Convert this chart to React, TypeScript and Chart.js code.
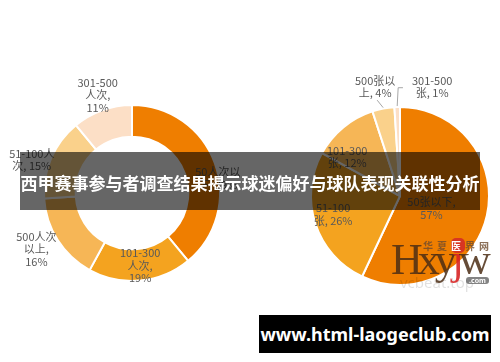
import React, { useEffect, useRef } from 'react';
import { Chart, registerables } from 'chart.js';

Chart.register(...registerables);

// ---- data ----
const leftCategories = ['50人次以下', '101-300人次', '500人次以上', '51-100人次', '301-500人次'];
const leftValues = [39, 19, 16, 15, 11];
const leftLabelLines = [
  ['50人次以', '下, 39%'],
  ['101-300', '人次,', '19%'],
  ['500人次', '以上,', '16%'],
  ['51-100人', '次, 15%'],
  ['301-500', '人次,', '11%'],
];

const rightCategories = ['50张以下', '51-100张', '101-300张', '500张以上', '301-500张'];
const rightValues = [57, 26, 12, 4, 1];
const rightLabelLines = [
  ['50张以下,', '57%'],
  ['51-100', '张, 26%'],
  ['101-300', '张, 12%'],
  ['500张以', '上, 4%'],
  ['301-500', '张, 1%'],
];

const titleText = '西甲赛事参与者调查结果揭示球迷偏好与球队表现关联性分析';
const urlText = 'www.html-laogeclub.com';

// ---- styles ----
const sliceColors = ['#EF7E00', '#F4A31F', '#F6B656', '#FAD18B', '#FCDFC6'];
const FONT = '"Noto Sans CJK SC", "Noto Sans", sans-serif';

// [radius factor, angle shift (deg), leader type]
const leftPlace: [number, number, string][] = [
  [0.99, 10, ''],
  [0.83, -1, ''],
  [1.26, 2, ''],
  [1.2, -5, ''],
  [1.18, 0.5, ''],
];
const rightPlace: [number, number, string][] = [
  [0.38, 9, ''],
  [0.78, 2.6, ''],
  [0.74, -13.7, ''],
  [1.26, -2, 'straight'],
  [1.28, 18.2, 'elbow'],
];

const sliceLabels = {
  id: 'sliceLabels',
  afterDatasetsDraw(chart: any, _args: any, opts: any) {
    const { ctx } = chart;
    const meta = chart.getDatasetMeta(0);
    const lines: string[][] = opts.lines;
    const place: [number, number, string][] = opts.place;
    const lh = 12.5;
    ctx.save();
    ctx.font = '11px ' + FONT;
    ctx.fillStyle = '#595959';
    ctx.textAlign = 'center';
    ctx.textBaseline = 'middle';
    meta.data.forEach((arc: any, i: number) => {
      const p = arc.getProps(['x', 'y', 'startAngle', 'endAngle', 'outerRadius'], true);
      const [k, shift, leader] = place[i];
      const mid0 = (p.startAngle + p.endAngle) / 2;
      const mid = mid0 + (shift * Math.PI) / 180;
      const r = p.outerRadius * k;
      const cx = p.x + Math.cos(mid) * r;
      const cy = p.y + Math.sin(mid) * r;
      const ls = lines[i];
      const top = cy - (ls.length * lh) / 2;
      ls.forEach((t, j) => ctx.fillText(t, cx, top + lh * (j + 0.5)));
      if (leader) {
        const sx = p.x + Math.cos(mid0) * (p.outerRadius + 1);
        const sy = p.y + Math.sin(mid0) * (p.outerRadius + 1);
        ctx.strokeStyle = '#A6A6A6';
        ctx.lineWidth = 1;
        ctx.beginPath();
        ctx.moveTo(sx, sy);
        if (leader === 'straight') {
          ctx.lineTo(cx + 2, top + ls.length * lh + 1);
        } else {
          const w = Math.max(...ls.map((t) => ctx.measureText(t).width));
          ctx.lineTo(sx + 1, cy + 1);
          ctx.lineTo(cx - w / 2 - 9, cy + 1);
        }
        ctx.stroke();
      }
    });
    ctx.restore();
  },
};

function PieCanvas(props: {
  categories: string[];
  values: number[];
  lines: string[][];
  place: [number, number, string][];
  cutout: string | number;
  padding: { left: number; right: number; top: number; bottom: number };
  left: number;
}) {
  const ref = useRef<HTMLCanvasElement>(null);
  useEffect(() => {
    if (!ref.current) return;
    const chart = new Chart(ref.current, {
      type: 'doughnut',
      data: {
        labels: props.categories,
        datasets: [
          {
            data: props.values,
            backgroundColor: sliceColors,
            borderColor: '#FFFFFF',
            borderWidth: 2,
          },
        ],
      },
      options: {
        responsive: false,
        maintainAspectRatio: false,
        devicePixelRatio: 1,
        animation: false,
        cutout: props.cutout,
        layout: { padding: props.padding },
        plugins: {
          legend: { display: false },
          tooltip: { enabled: false },
          sliceLabels: { lines: props.lines, place: props.place },
        } as any,
      },
      plugins: [sliceLabels as any],
    });
    return () => chart.destroy();
  }, []);
  return (
    <canvas
      ref={ref}
      width={250}
      height={362}
      style={{ position: 'absolute', left: props.left, top: 0, width: 250, height: 362 }}
    />
  );
}

export default function App() {
  return (
    <div
      style={{
        position: 'fixed',
        left: 0,
        top: 0,
        width: 500,
        height: 362,
        background: '#FFFFFF',
        overflow: 'hidden',
      }}
    >
      <PieCanvas
        categories={leftCategories}
        values={leftValues}
        lines={leftLabelLines}
        place={leftPlace}
        cutout="64%"
        padding={{ left: 43, right: 29, top: 104, bottom: 80 }}
        left={0}
      />
      <PieCanvas
        categories={rightCategories}
        values={rightValues}
        lines={rightLabelLines}
        place={rightPlace}
        cutout={0}
        padding={{ left: 60, right: 10, top: 106, bottom: 76 }}
        left={250}
      />

      {/* watermark */}
      <div style={{ position: 'absolute', left: 400, top: 272, font: '15px "Noto Sans", sans-serif', color: 'rgba(0,0,0,0.12)', whiteSpace: 'nowrap' }}>
        vcbeat.top
      </div>
      <div style={{ position: 'absolute', left: 391, top: 238, font: '44px "Liberation Serif", serif', lineHeight: '44px', color: 'rgba(75,45,20,0.85)', letterSpacing: -5, whiteSpace: 'nowrap' }}>
        Hxy<span style={{ color: 'rgba(215,35,35,0.9)' }}>j</span>w
      </div>
      <div style={{ position: 'absolute', left: 423, top: 240, font: 'bold 10px ' + FONT, lineHeight: '12px', color: 'rgba(110,75,45,0.8)', letterSpacing: 4, whiteSpace: 'nowrap' }}>
        华夏<span style={{ color: '#fff', background: 'rgba(210,40,40,0.85)', borderRadius: 5 }}>医</span>界网
      </div>
      <div style={{ position: 'absolute', left: 466, top: 277, width: 23, height: 7, borderRadius: 3, background: 'rgba(90,90,90,0.75)', color: '#fff', font: 'bold 7px "Noto Sans", sans-serif', lineHeight: '7px', textAlign: 'center' }}>
        .com
      </div>

      {/* title banner */}
      <div
        style={{
          position: 'absolute',
          left: 20,
          top: 152,
          width: 460,
          height: 58,
          background: 'rgba(0,0,0,0.6)',
          color: '#FFFFFF',
          font: 'bold 17px ' + FONT,
          display: 'flex',
          alignItems: 'center',
          justifyContent: 'center',
          whiteSpace: 'nowrap',
          paddingTop: 2,
          boxSizing: 'border-box',
        }}
      >
        {titleText}
      </div>

      {/* url banner */}
      <div
        style={{
          position: 'absolute',
          left: 259,
          top: 315,
          width: 232,
          height: 38,
          background: '#000000',
          color: '#FFFFFF',
          font: 'bold 18px "Noto Sans", sans-serif',
          display: 'flex',
          alignItems: 'center',
          justifyContent: 'center',
          whiteSpace: 'nowrap',
        }}
      >
        {urlText}
      </div>
    </div>
  );
}
